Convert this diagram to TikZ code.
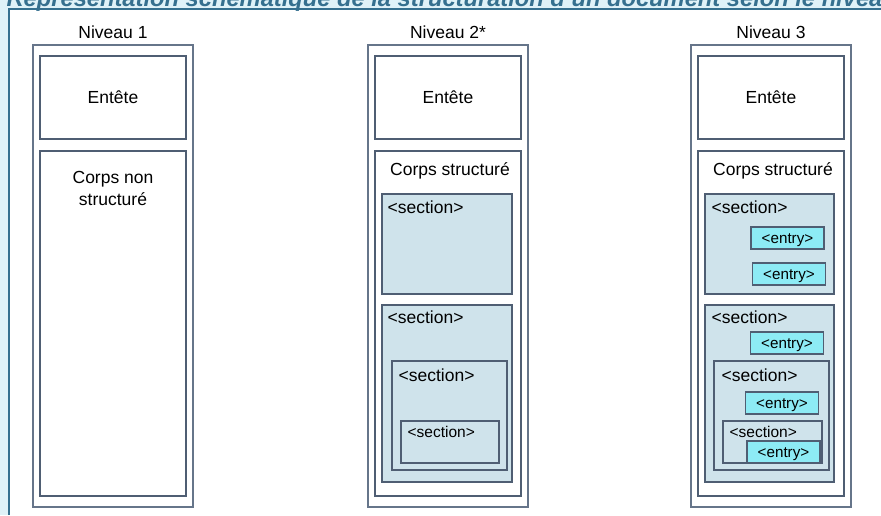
\documentclass[tikz,border=0pt]{standalone}
\usepackage{fontspec}
\setmainfont{Liberation Sans}
\usepackage{tikz}
\usetikzlibrary{positioning}
\definecolor{bgblue}{HTML}{DFF2F8}
\definecolor{frameteal}{HTML}{35708F}
\definecolor{boxline}{HTML}{4F5E73}
\definecolor{outerline}{HTML}{66758A}
\definecolor{sectionblue}{HTML}{CFE3EB}
\definecolor{entrycyan}{HTML}{8DEBF5}
\tikzset{
every picture/.style={line width=1.2pt},
%%%%%%%%%%  Box styles
outerbox/.style={draw=outerline, fill=white},
plainbox/.style={draw=boxline, fill=white},
sectionbox/.style={draw=boxline, fill=sectionblue},
%%%%%%%%%%  Text styles
lbl/.style={inner sep=0pt, font=\fontsize{17.5}{22}\selectfont},
seclbl/.style={lbl, anchor=west},
small_seclbl/.style={inner sep=0pt, anchor=west, font=\fontsize{15.5}{18}\selectfont},
entry/.style={draw=boxline, fill=entrycyan, inner sep=0pt,
              minimum width=73pt, minimum height=22pt,
              text height=11pt, text depth=1pt,
              font=\fontsize{15.2}{18}\selectfont},
title/.style={inner sep=0pt, anchor=base west, text=frameteal,
              font=\fontsize{23.7}{26}\selectfont\bfseries\itshape}
}

\begin{document}
\begin{tikzpicture}[x=1pt,y=-1pt]
\useasboundingbox (0,0) rectangle (881,515);
%% background and frame
\fill[bgblue] (0,0) rectangle (881,515);
\fill[white] (8.5,8.5) rectangle (881,515);
\draw[frameteal,line width=2pt] (8.5,515) -- (8.5,8.5) -- (881,8.5);
\node[title] (titre) at (6,6) {Représentation schématique de la structuration d'un document selon le niveau};
%%%%%%%%%%%%%%%%%%%%%%%%%%%%%%%%%%%%%%%%%%%%%%
%% Niveau 1
\begin{scope}[shift={(33,0)}]
\node[lbl] (niv1) at (80,32) {Niveau 1};
\draw[outerbox] (0,45) rectangle (160,507);
\draw[plainbox] (7,56) rectangle (153,139);
\node[lbl] (entete1) at (80,97) {Entête};
\draw[plainbox] (7,151) rectangle (153,496);
\node[lbl, align=center] (corps1) at (80,188) {Corps non\\structuré};
\end{scope}
%%%%%%%%%%%%%%%%%%%%%%%%%%%%%%%%%%%%%%%%%%%%%%
%% Niveau 2*
\begin{scope}[shift={(368,0)}]
\node[lbl] (niv2) at (80,32) {Niveau 2*};
\draw[outerbox] (0,45) rectangle (160,507);
\draw[plainbox] (7,56) rectangle (153,139);
\node[lbl] (entete2) at (80,97) {Entête};
\draw[plainbox] (7,151) rectangle (153,496);
\node[lbl] (corps2) at (82,171) {Corps structuré};
%% sections
\draw[sectionbox] (14,194) rectangle (144,294);
\node[seclbl] (sec2a) at (19,207) {<section>};
\draw[sectionbox] (14,305) rectangle (144,482);
\node[seclbl] (sec2b) at (19,317) {<section>};
\draw[sectionbox] (24,361) rectangle (139,470);
\node[seclbl] (sec2c) at (30,375) {<section>};
\draw[sectionbox] (33,421) rectangle (131,463);
\node[small_seclbl] (sec2d) at (39,432) {<section>};
\end{scope}
%%%%%%%%%%%%%%%%%%%%%%%%%%%%%%%%%%%%%%%%%%%%%%
%% Niveau 3
\begin{scope}[shift={(691,0)}]
\node[lbl] (niv3) at (80,32) {Niveau 3};
\draw[outerbox] (0,45) rectangle (160,507);
\draw[plainbox] (7,56) rectangle (153,139);
\node[lbl] (entete3) at (80,97) {Entête};
\draw[plainbox] (7,151) rectangle (153,496);
\node[lbl] (corps3) at (82,171) {Corps structuré};
%% first section
\draw[sectionbox] (14,194) rectangle (143,294);
\node[seclbl] (sec3a) at (20,207) {<section>};
\node[entry] (ent3a) at (96.5,238) {<entry>};
\node[entry] (ent3b) at (98,274) {<entry>};
%% nested sections
\draw[sectionbox] (14,305) rectangle (143,482);
\node[seclbl] (sec3b) at (20,317) {<section>};
\node[entry] (ent3c) at (96,343) {<entry>};
\draw[sectionbox] (23,361) rectangle (138,470);
\node[seclbl] (sec3c) at (30,375) {<section>};
\node[entry] (ent3d) at (91,403) {<entry>};
\draw[sectionbox] (32,421) rectangle (131,463);
\node[small_seclbl] (sec3d) at (38,432) {<section>};
\node[entry] (ent3e) at (92.5,452) {<entry>};
\end{scope}
\end{tikzpicture}
\end{document}
